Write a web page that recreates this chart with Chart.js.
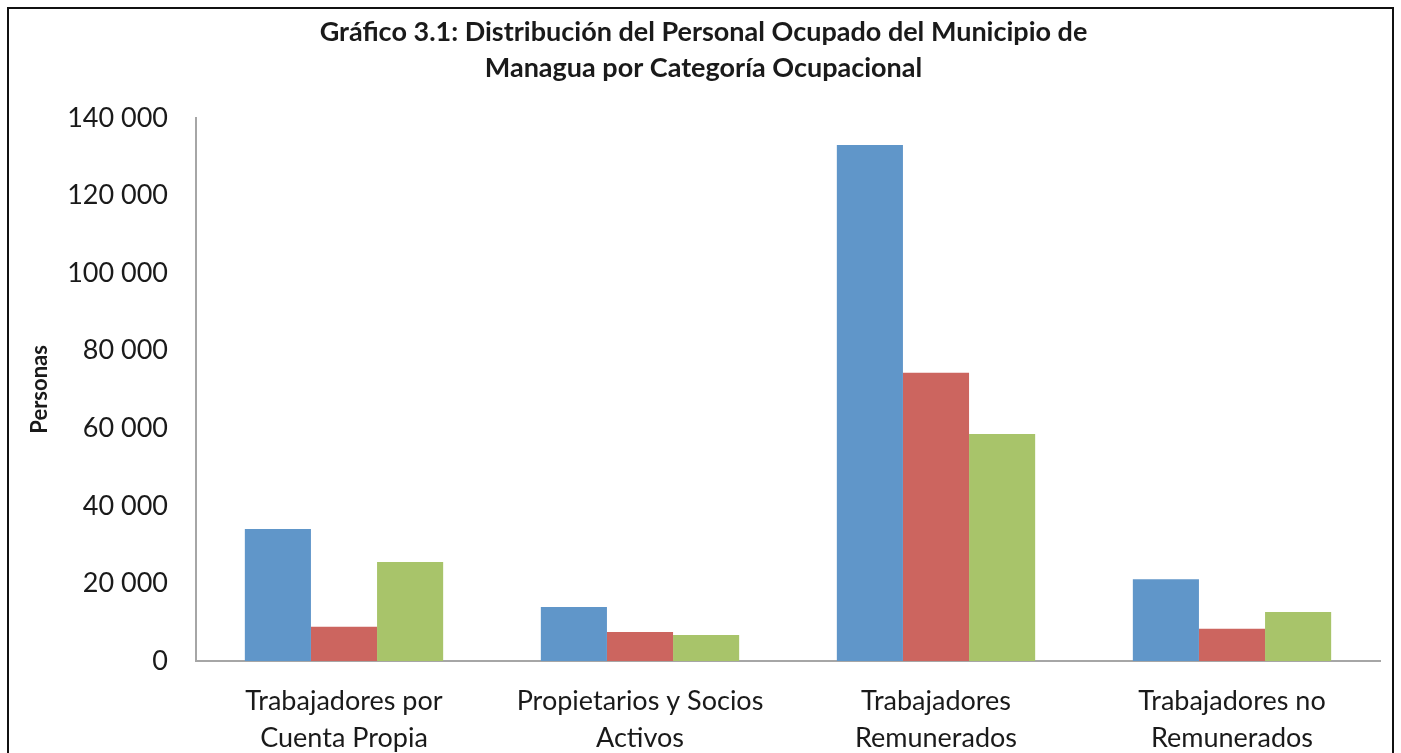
<!DOCTYPE html>
<html>
<head>
<meta charset="utf-8">
<script src="https://cdn.jsdelivr.net/npm/chart.js@4"></script>
<style>
  html, body { margin: 0; padding: 0; background: #fff; overflow: hidden; }
  #wrap { position: relative; width: 1401px; height: 753px; }
  #frame { position: absolute; left: 7px; top: 7px; width: 1387px; height: 800px; border: 2px solid #111; box-sizing: border-box; pointer-events: none; }
  canvas { position: absolute; left: 0; top: 0; }
</style>
</head>
<body>
<div id="wrap">
  <canvas id="chart" width="1401" height="753"></canvas>
  <div id="frame"></div>
</div>
<script>
// Data
const categories = [
  ['Trabajadores por', 'Cuenta Propia'],
  ['Propietarios y Socios', 'Activos'],
  ['Trabajadores', 'Remunerados'],
  ['Trabajadores no', 'Remunerados']
];
const totalValues = [34000, 13900, 133000, 21100];
const hombresValues = [8800, 7500, 74300, 8300];
const mujeresValues = [25500, 6700, 58500, 12600];
const yTicks = [0, 20000, 40000, 60000, 80000, 100000, 120000, 140000];

const FONT = 'Lato, "Open Sans", sans-serif';

function fmt(v) {
  return String(v).replace(/\B(?=(\d{3})+(?!\d))/g, ' ');
}

document.addEventListener('DOMContentLoaded', () => {
  const ctx = document.getElementById('chart');

  new Chart(ctx, {
    type: 'bar',
    data: {
      labels: categories,
      datasets: [
        { label: 'Total', data: totalValues, backgroundColor: '#6096c9' },
        { label: 'Hombres', data: hombresValues, backgroundColor: '#cc655f' },
        { label: 'Mujeres', data: mujeresValues, backgroundColor: '#a8c46a' }
      ]
    },
    options: {
      responsive: false,
      animation: false,
      devicePixelRatio: 1,
      categoryPercentage: 0.67,
      barPercentage: 1,
      layout: { padding: { left: 27, right: 21, top: 0, bottom: 0 } },
      plugins: {
        legend: { display: false },
        tooltip: { enabled: false },
        title: {
          display: true,
          text: ['Gráfico 3.1: Distribución del Personal Ocupado del Municipio de', 'Managua por Categoría Ocupacional'],
          color: '#1a1a1a',
          font: { family: FONT, size: 27, weight: 'bold', lineHeight: 1.33 },
          padding: { top: 14, bottom: 32 }
        }
      },
      scales: {
        x: {
          grid: { display: false, drawTicks: false },
          border: { display: true, color: '#a6a6a6', width: 2 },
          ticks: {
            color: '#1a1a1a',
            font: { family: FONT, size: 27, lineHeight: 1.37 },
            padding: 22,
            maxRotation: 0,
            autoSkip: false
          },
          afterFit: s => { s.height = 92; }
        },
        y: {
          min: 0,
          max: 140000,
          afterBuildTicks: s => { s.ticks = yTicks.map(v => ({ value: v })); },
          grid: { display: false, drawTicks: false },
          border: { display: true, color: '#a6a6a6', width: 2 },
          ticks: {
            color: '#1a1a1a',
            font: { family: FONT, size: 27 },
            padding: 28,
            callback: v => fmt(v)
          },
          title: {
            display: true,
            text: 'Personas',
            color: '#1a1a1a',
            font: { family: FONT, size: 22, weight: 'bold' },
            padding: { top: 0, bottom: 0 }
          },
          afterFit: s => { s.width = 169; }
        }
      }
    }
  });
});
</script>
</body>
</html>
